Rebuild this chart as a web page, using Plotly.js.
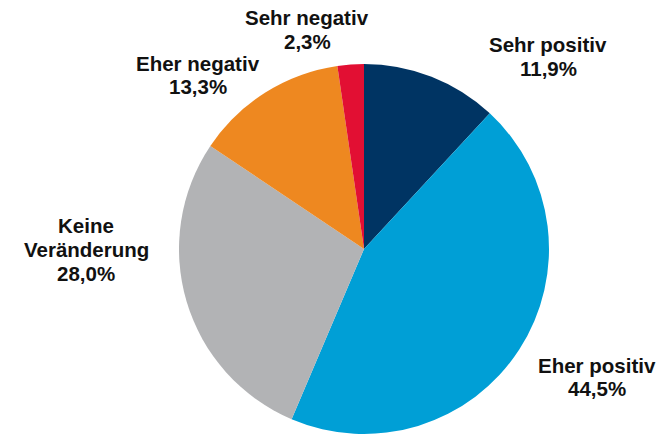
<!DOCTYPE html>
<html>
<head>
<meta charset="utf-8">
<script src="https://cdn.plot.ly/plotly-3.0.1.min.js"></script>
<style>html,body{margin:0;padding:0;background:#fff;}#chart{width:665px;height:435px;}</style>
</head>
<body>
<div id="chart"></div>
<script>
const categories = ["Sehr positiv", "Eher positiv", "Keine Veränderung", "Eher negativ", "Sehr negativ"];
const labelLines = [["Sehr positiv"], ["Eher positiv"], ["Keine", "Veränderung"], ["Eher negativ"], ["Sehr negativ"]];
const shares = [11.9, 44.5, 28.0, 13.3, 2.3];
const colors = ["#003463", "#009FD6", "#B2B3B5", "#EE8820", "#E20F33"];

const W = 665, H = 435;
// label block anchor: centre x, centre y of first line (pixels)
const labelPos = [[548, 45], [597, 365], [86, 226], [198, 63], [307, 18]];
const lineGap = 23.5;

const fmt = v => v.toFixed(1).replace('.', ',') + '%';

const cx = 364, cy = 249, r = 185;
const trace = {
  type: 'pie',
  labels: categories,
  values: shares,
  sort: false,
  direction: 'clockwise',
  rotation: 0,
  marker: {colors: colors, line: {width: 0}},
  textinfo: 'none',
  hoverinfo: 'label+percent',
  showlegend: false,
  domain: {x: [(cx - r) / W, (cx + r) / W], y: [(H - cy - r) / H, (H - cy + r) / H]}
};

const annotations = [];
categories.forEach((c, i) => {
  const lines = labelLines[i].concat([fmt(shares[i])]);
  lines.forEach((t, k) => {
    annotations.push({
      xref: 'paper', yref: 'paper',
      x: labelPos[i][0] / W, y: 1 - (labelPos[i][1] + k * lineGap) / H,
      xanchor: 'center', yanchor: 'middle',
      text: '<b>' + t + '</b>',
      showarrow: false,
      font: {family: "'Liberation Sans', Arial, sans-serif", size: 20.5, color: '#111'}
    });
  });
});

Plotly.newPlot('chart', [trace], {
  width: W, height: H,
  margin: {l: 0, r: 0, t: 0, b: 0},
  paper_bgcolor: '#fff',
  annotations: annotations
}, {displayModeBar: false, staticPlot: true});
</script>
</body>
</html>
